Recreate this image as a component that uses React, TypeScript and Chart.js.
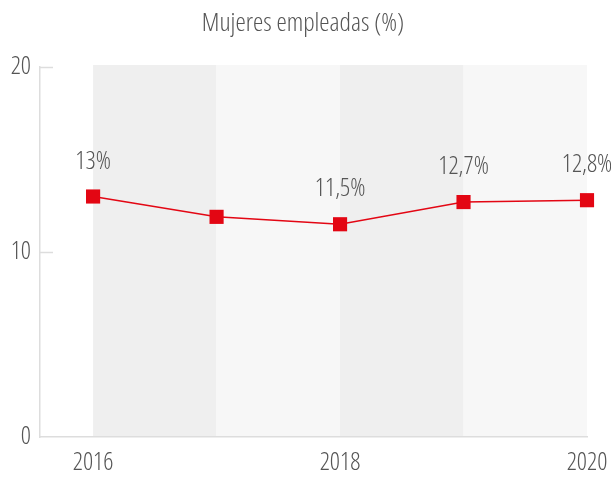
import React, { useEffect, useRef } from "react";
import { Chart, registerables } from "chart.js";

Chart.register(...registerables);

const TITLE = "Mujeres empleadas (%)";
const years = [2016, 2017, 2018, 2019, 2020];
const values = [13, 11.9, 11.5, 12.7, 12.8];
const valueLabels = ["13%", "", "11,5%", "12,7%", "12,8%"];
const xTickValues = [2016, 2018, 2020];
const yTickValues = [0, 10, 20];
const bandShades = ["#efefef", "#f7f7f7", "#efefef", "#f7f7f7"];

const RED = "#e30613";
const TEXT = "#555555";
const FONT = "'Open Sans', sans-serif";
const WEIGHT = "300 condensed";

export default function App() {
  const ref = useRef<HTMLCanvasElement | null>(null);

  useEffect(() => {
    document.body.style.margin = "0";
    const canvas = ref.current;
    if (!canvas) return;

    const bandsPlugin = {
      id: "bands",
      beforeDraw(chart: any) {
        const { ctx, chartArea, scales } = chart;
        const x = scales.x;
        ctx.save();
        for (let i = 0; i < years.length - 1; i++) {
          const x0 = x.getPixelForValue(years[i]);
          const x1 = x.getPixelForValue(years[i + 1]);
          ctx.fillStyle = bandShades[i % bandShades.length];
          ctx.fillRect(x0, chartArea.top - 2, x1 - x0, chartArea.bottom - chartArea.top + 2);
        }
        ctx.restore();
      },
    };

    const decoPlugin = {
      id: "deco",
      beforeDatasetsDraw(chart: any) {
        const { ctx, chartArea, scales } = chart;
        ctx.save();
        ctx.strokeStyle = "#dddddd";
        ctx.lineWidth = 1.5;
        yTickValues.forEach((v) => {
          if (v === 0) return;
          const y = Math.round(scales.y.getPixelForValue(v)) + 0.5;
          ctx.beginPath();
          ctx.moveTo(chartArea.left, y);
          ctx.lineTo(chartArea.left + 13, y);
          ctx.stroke();
        });
        ctx.restore();
      },
      afterDatasetsDraw(chart: any) {
        const { ctx, scales } = chart;
        ctx.save();
        ctx.fillStyle = TEXT;
        ctx.textAlign = "center";
        ctx.textBaseline = "middle";
        ctx.font = WEIGHT + " 25px " + FONT;
        valueLabels.forEach((lab, i) => {
          if (!lab) return;
          const px = scales.x.getPixelForValue(years[i]);
          const py = scales.y.getPixelForValue(values[i]);
          ctx.fillText(lab, px, py - 35);
        });
        ctx.font = WEIGHT + " 26px " + FONT;
        ctx.fillText(TITLE, 303, 24);
        ctx.restore();
      },
    };

    const chart = new Chart(canvas, {
      type: "line",
      data: {
        datasets: [
          {
            data: years.map((y, i) => ({ x: y, y: values[i] })),
            borderColor: RED,
            backgroundColor: RED,
            borderWidth: 1.5,
            pointStyle: "rect",
            pointRadius: 10,
            pointHoverRadius: 10,
            pointBorderWidth: 0,
            tension: 0,
            clip: false as any,
          },
        ],
      },
      options: {
        animation: false,
        responsive: false,
        devicePixelRatio: 1,
        layout: { padding: { top: 67, right: 24, left: 0, bottom: 0 } },
        plugins: {
          legend: { display: false },
          tooltip: { enabled: false },
          title: { display: false },
        },
        scales: {
          x: {
            type: "linear",
            min: 2015.57,
            max: 2020,
            afterBuildTicks: (s: any) => {
              s.ticks = xTickValues.map((v) => ({ value: v }));
            },
            afterFit: (s: any) => {
              s.height = 41;
              s.paddingLeft = 0;
              s.paddingRight = 0;
            },
            grid: { display: true, drawOnChartArea: false, drawTicks: false },
            border: { display: true, color: "#dddddd", width: 1.5 },
            ticks: {
              color: TEXT,
              font: { family: FONT, size: 25, weight: WEIGHT as any },
              padding: 11,
              maxRotation: 0,
              autoSkip: false,
              callback: (v: any) => String(v),
            },
          },
          y: {
            min: 0,
            max: 20,
            afterBuildTicks: (s: any) => {
              s.ticks = yTickValues.map((v) => ({ value: v }));
            },
            afterFit: (s: any) => {
              s.width = 40;
              s.paddingTop = 0;
              s.paddingBottom = 0;
            },
            grid: { display: true, drawOnChartArea: false, drawTicks: false },
            border: { display: true, color: "#dddddd", width: 1.5 },
            ticks: {
              color: TEXT,
              font: { family: FONT, size: 25, weight: WEIGHT as any },
              padding: 9,
              callback: (v: any) => String(v),
            },
          },
        },
      },
      plugins: [bandsPlugin, decoPlugin],
    });

    return () => chart.destroy();
  }, []);

  return (
    <div style={{ width: 611, height: 478 }}>
      <canvas ref={ref} width={611} height={478} />
    </div>
  );
}
